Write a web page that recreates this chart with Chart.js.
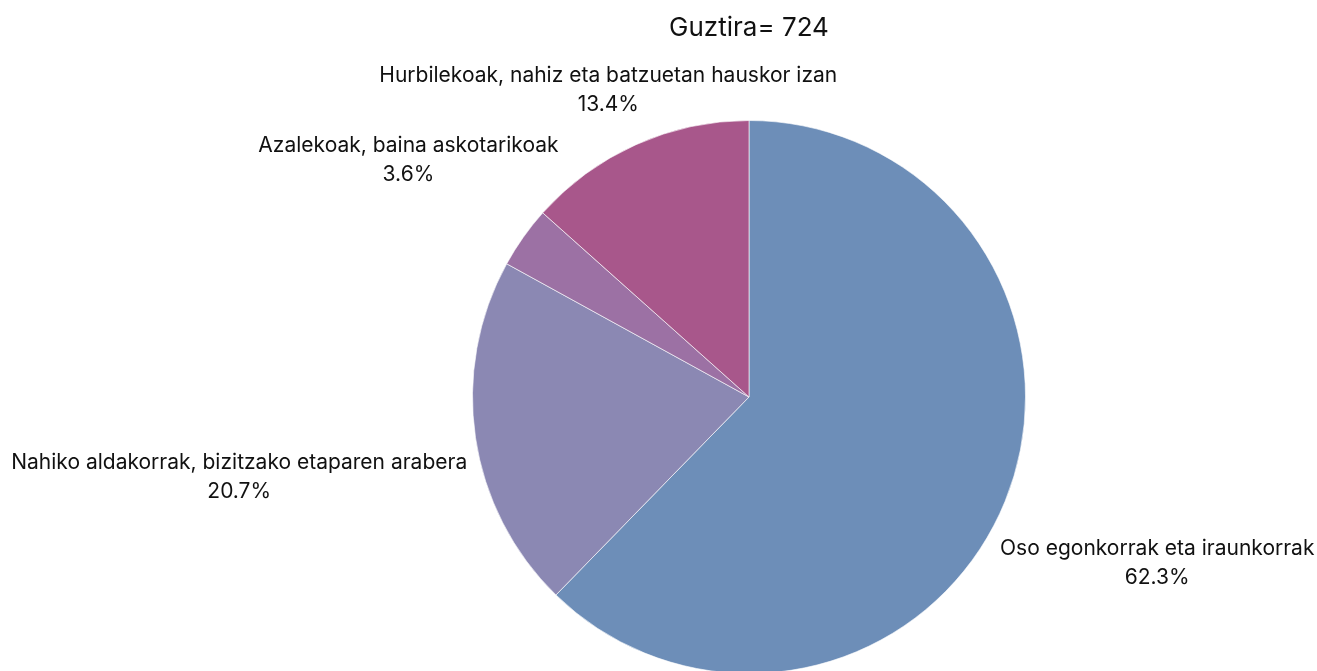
<!DOCTYPE html>
<html>
<head>
<meta charset="utf-8">
<script src="https://cdn.jsdelivr.net/npm/chart.js@4/dist/chart.umd.min.js"></script>
<style>
  html, body { margin: 0; padding: 0; background: #fff; overflow: hidden; }
  #grafikoa { display: block; }
</style>
</head>
<body>
<canvas id="grafikoa" width="1317" height="700"></canvas>
<script>
const kategoriak = [
    "Oso egonkorrak eta iraunkorrak",
    "Nahiko aldakorrak, bizitzako etaparen arabera",
    "Azalekoak, baina askotarikoak",
    "Hurbilekoak, nahiz eta batzuetan hauskor izan"
];
const ehunekoak = [62.3, 20.7, 3.6, 13.4];
const guztira   = 724;

const koloreak = ['#6d8eb8', '#8b88b3', '#9c71a4', '#a8578b'];

// etiketen mugimendu txikiak (plotly-ren antzera gainjartzeak saihesteko)
const etiketaMugitu = [
    { dx: -12, dy: 44 },
    { dx: 9,   dy: 32 },
    { dx: 24,  dy: -49 },
    { dx: 74,  dy: -10 }
];

const letraMota = "Inter, 'DejaVu Sans', sans-serif";

const etiketakPlugin = {
    id: 'etiketak',
    afterDraw(chart) {
        const ctx  = chart.ctx;
        const arcs = chart.getDatasetMeta(0).data;

        ctx.save();
        ctx.fillStyle = '#111';
        ctx.textAlign = 'center';
        ctx.textBaseline = 'middle';

        // izenburua
        const erdiX = arcs[0].x;
        ctx.font = '400 26px ' + letraMota;
        ctx.fillText('Guztira= ' + guztira, erdiX, 28);

        ctx.font = '400 21px ' + letraMota;
        const lerroa = 29;
        const altuera = 58;

        arcs.forEach((arc, i) => {
            const p = arc.getProps(['x', 'y', 'startAngle', 'endAngle', 'outerRadius'], true);
            const erdiAng = (p.startAngle + p.endAngle) / 2;
            const cos = Math.cos(erdiAng);
            const sin = Math.sin(erdiAng);
            const d = p.outerRadius + 20;

            const testua = kategoriak[i];
            const balioa = ehunekoak[i].toFixed(1) + '%';
            const w = Math.max(ctx.measureText(testua).width, ctx.measureText(balioa).width);

            const ax = p.x + cos * d;
            const ay = p.y + sin * d;
            const cx = ax + cos * w / 2 + etiketaMugitu[i].dx;
            const cy = ay + sin * altuera / 2 + etiketaMugitu[i].dy;

            ctx.fillText(testua, cx, cy - lerroa / 2);
            ctx.fillText(balioa, cx, cy + lerroa / 2);
        });
        ctx.restore();
    }
};

new Chart(document.getElementById('grafikoa'), {
    type: 'pie',
    data: {
        labels: kategoriak,
        datasets: [{
            data: ehunekoak,
            backgroundColor: koloreak,
            borderColor: 'rgba(255, 255, 255, 0.6)',
            borderWidth: 1
        }]
    },
    options: {
        responsive: false,
        devicePixelRatio: 1,
        animation: false,
        layout: {
            padding: { top: 120, bottom: 26, left: 472, right: 291 }
        },
        plugins: {
            legend: { display: false },
            tooltip: { enabled: false },
            title: { display: false }
        }
    },
    plugins: [etiketakPlugin]
});
</script>
</body>
</html>
